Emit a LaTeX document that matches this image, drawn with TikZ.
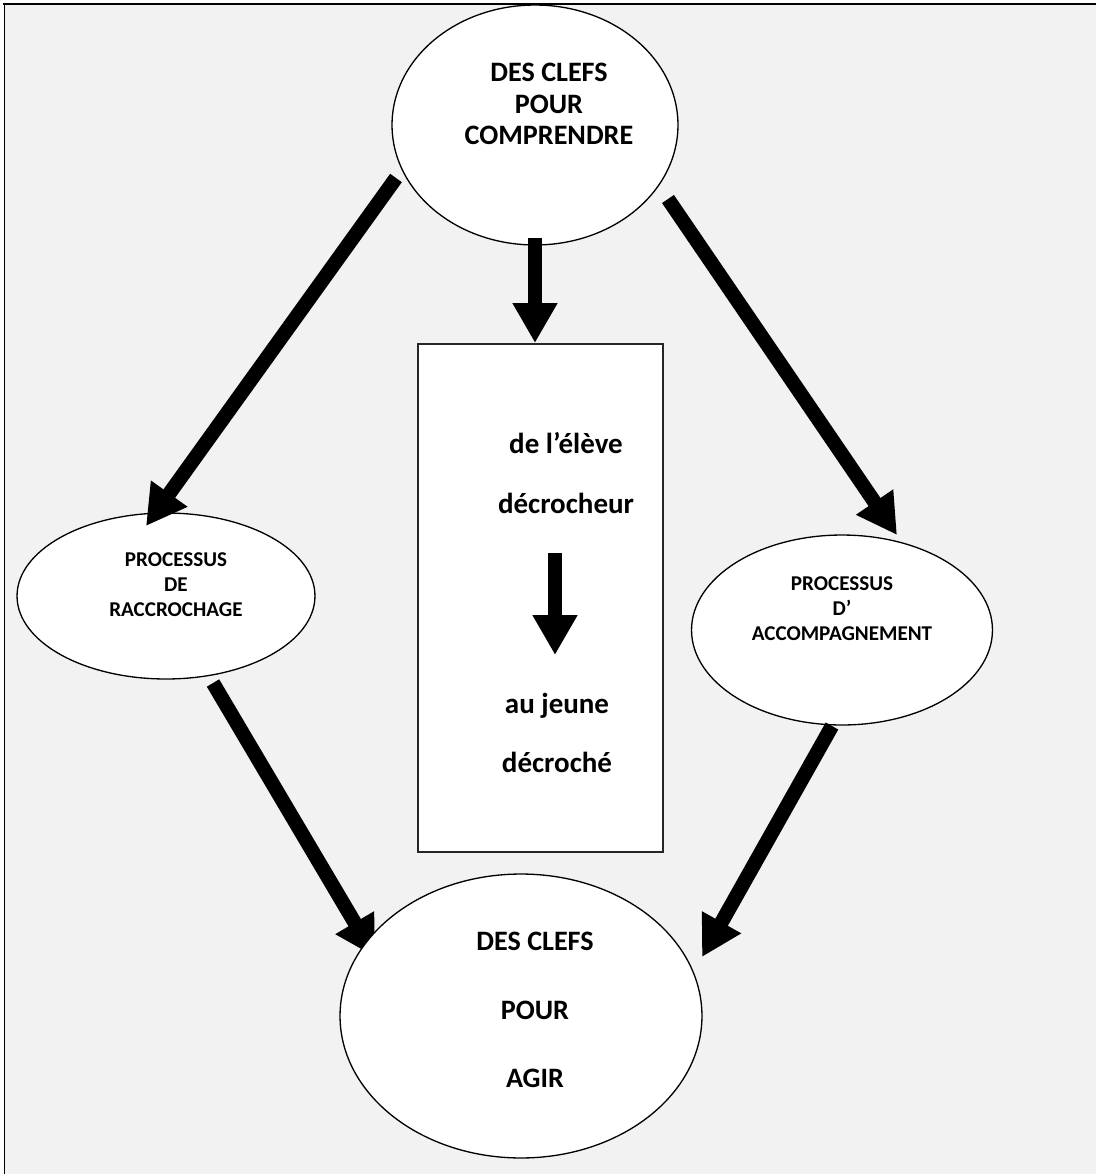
\documentclass[tikz,border=0pt]{standalone}
\usepackage{fontspec}
\setmainfont{Carlito}
\usetikzlibrary{shapes.geometric,arrows.meta}
\definecolor{bgray}{HTML}{F2F2F2}
\begin{document}
\begin{tikzpicture}[x=0.02cm,y=-0.02cm,
  bubble/.style={ellipse,draw=black,fill=white,line width=0.75pt,inner sep=0pt},
  boxnode/.style={rectangle,draw=black!85,fill=white,line width=0.85pt,inner sep=0pt},
  biglbl/.style={align=center,inner sep=0pt,font=\bfseries\fontsize{16}{17.9}\selectfont},
  boxlbl/.style={align=center,inner sep=0pt,font=\bfseries\fontsize{16.5}{34}\selectfont},
  agirlbl/.style={align=center,inner sep=0pt,font=\bfseries\fontsize{16}{38.8}\selectfont},
  smalllbl/.style={align=center,inner sep=0pt,font=\bfseries\fontsize{12}{14.2}\selectfont},
  bigarrow/.style={line width=8.2pt,-{Triangle[length=22.7pt,width=24pt]}}
]
\useasboundingbox (0,0) rectangle (1096,1174);
\fill[white] (0,0) rectangle (1096,1174);
\fill[bgray] (4,4) rectangle (1096,1174);
\draw[line width=1.1pt] (3.5,4) -- (1096,4);
\draw[line width=0.7pt] (4.5,4) -- (4.5,1174);

% nodes
\node[bubble,minimum width=5.72cm,minimum height=4.8cm] (top) at (535,125) {};
\node[biglbl] (toptxt) at (549,104) {DES CLEFS\\POUR\\COMPRENDRE};

\node[bubble,minimum width=5.96cm,minimum height=3.32cm] (left) at (166,596) {};
\node[smalllbl] (lefttxt) at (176,585) {PROCESSUS\\DE\\RACCROCHAGE};

\node[bubble,minimum width=6.02cm,minimum height=3.8cm] (right) at (842,630) {};
\node[smalllbl] (righttxt) at (842,609) {PROCESSUS\\D’\\ACCOMPAGNEMENT};

\node[boxnode,minimum width=4.9cm,minimum height=10.16cm] (box) at (540.5,598) {};
\node[boxlbl] (boxtxta) at (566,473) {de l’élève\\décrocheur};
\node[boxlbl] (boxtxtb) at (557,733) {au jeune\\décroché};

% connector end points
\coordinate (a1s) at (396,178);  \coordinate (a1e) at (146,526);
\coordinate (a2s) at (668,199);  \coordinate (a2e) at (897,535);
\coordinate (a3s) at (213,683);  \coordinate (a3e) at (375,957);
\coordinate (a4s) at (832,726);  \coordinate (a4e) at (702,957);
\coordinate (a5s) at (535,238);  \coordinate (a5e) at (535,343);
\coordinate (a6s) at (555,553);  \coordinate (a6e) at (555,655);

\draw[bigarrow] (a1s) -- (a1e);
\draw[bigarrow] (a2s) -- (a2e);
\draw[bigarrow] (a3s) -- (a3e);
\draw[bigarrow] (a4s) -- (a4e);
\draw[bigarrow] (a5s) -- (a5e);
\draw[bigarrow] (a6s) -- (a6e);

\node[bubble,minimum width=7.24cm,minimum height=5.68cm] (bottom) at (521,1016) {};
\node[agirlbl] (bottomtxt) at (535,1010) {DES CLEFS\\POUR\\AGIR};
\end{tikzpicture}
\end{document}
